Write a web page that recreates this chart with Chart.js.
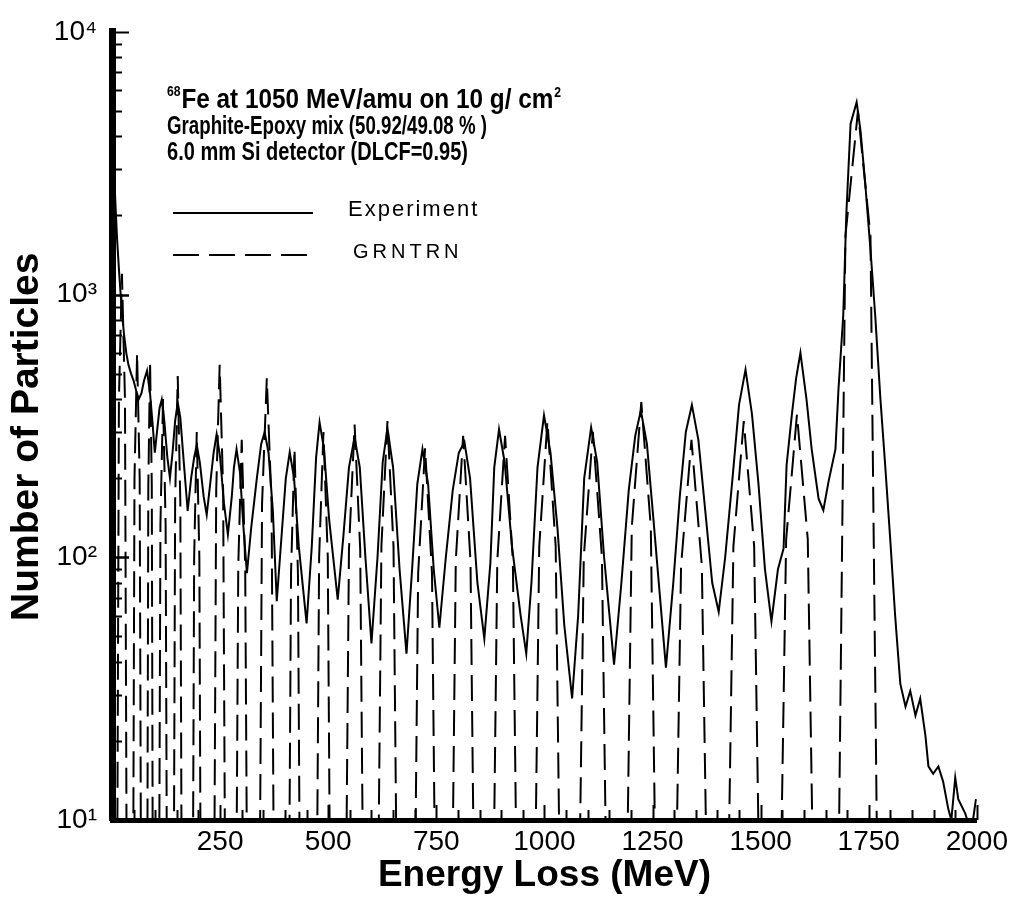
<!DOCTYPE html>
<html>
<head>
<meta charset="utf-8">
<script src="https://cdn.jsdelivr.net/npm/chart.js@4.4.1/dist/chart.umd.min.js"></script>
<style>
  html, body { margin: 0; padding: 0; background: #fff; }
  canvas { display: block; }
</style>
</head>
<body>
<canvas id="myChart" width="1013" height="897"></canvas>
<script>
const ctx = document.getElementById('myChart');
const FONT = '"Liberation Sans", Arial, sans-serif';

// measured spectrum: [energy loss MeV, number of particles]
const experiment = [
  [0, 9], [2, 3400], [5, 2900], [8, 2200], [12, 1600], [16, 1250], [20, 1000], [24, 820],
  [28, 700], [33, 600], [38, 540], [44, 500], [50, 470], [56, 430], [62, 400], [68, 420],
  [74, 470], [81, 513], [88, 420], [94, 320], [99, 250], [104, 300], [110, 370], [115, 398],
  [121, 330], [128, 240], [134, 200], [140, 250], [146, 330], [152, 388], [158, 340], [166, 230],
  [175, 150], [183, 200], [190, 240], [196, 267], [203, 230], [212, 170], [219, 145], [227, 190],
  [235, 250], [242, 294], [250, 240], [259, 160], [268, 122], [277, 170], [282, 220], [288, 258],
  [296, 210], [304, 130], [312, 87], [322, 130], [335, 200], [345, 270], [353, 299], [362, 250],
  [372, 150], [381, 68], [392, 120], [402, 200], [411, 251], [421, 200], [432, 110], [450, 56],
  [462, 110], [472, 240], [480, 326], [490, 260], [502, 140], [522, 69], [535, 120], [548, 220],
  [561, 286], [573, 220], [586, 100], [600, 47], [614, 100], [626, 230], [637, 310], [650, 220],
  [665, 90], [681, 43], [694, 90], [706, 190], [718, 258], [731, 190], [744, 90], [757, 54],
  [772, 100], [788, 180], [802, 250], [815, 275], [828, 200], [845, 80], [861, 49], [875, 95],
  [884, 220], [895, 307], [908, 230], [925, 110], [945, 60], [958, 43], [970, 80], [984, 220],
  [999, 347], [1014, 250], [1030, 130], [1046, 55], [1064, 29], [1078, 60], [1092, 200], [1108, 312],
  [1122, 230], [1138, 100], [1161, 39], [1178, 80], [1195, 180], [1210, 290], [1223, 362], [1237, 270],
  [1252, 140], [1281, 38], [1298, 80], [1313, 170], [1327, 300], [1341, 380], [1356, 280], [1372, 150],
  [1388, 80], [1403, 62], [1418, 100], [1435, 200], [1450, 380], [1465, 518], [1480, 350], [1495, 190],
  [1510, 90], [1525, 57], [1540, 90], [1553, 108], [1560, 224], [1572, 347], [1582, 480], [1592, 600],
  [1606, 400], [1618, 258], [1634, 167], [1645, 151], [1657, 194], [1673, 258], [1680, 436], [1691, 830],
  [1698, 2000], [1708, 4470], [1722, 5400], [1731, 4200], [1742, 2630], [1754, 1480], [1765, 830], [1777, 400],
  [1788, 224], [1800, 115], [1811, 60], [1823, 33], [1835, 27], [1846, 31], [1858, 25], [1869, 29],
  [1881, 21], [1888, 16], [1899, 15], [1911, 16], [1922, 14], [1934, 11], [1941, 10], [1950, 14.5],
  [1957, 12], [1973, 10.6], [1987, 9], [1998, 12],
];

// GRNTRN calculation: narrow peaks, feet drop below the axis
const grntrn = [
  [11, 2], [16, 400], [23, 1200], [30, 400], [35, 2],
  [48, 2], [52, 200], [58, 600], [64, 200], [68, 2],
  [81, 2], [84, 187], [88, 560], [92, 187], [95, 2],
  [108, 2], [112, 133], [118, 400], [124, 133], [128, 2],
  [142, 2], [146, 163], [152, 490], [158, 163], [162, 2],
  [186, 2], [190, 100], [196, 300], [202, 100], [206, 2],
  [235, 2], [241, 180], [249, 540], [257, 180], [263, 2],
  [286, 2], [292, 93], [300, 280], [308, 93], [314, 2],
  [340, 2], [347, 160], [358, 480], [369, 160], [376, 2],
  [408, 2], [414, 87], [422, 260], [430, 87], [436, 2],
  [472, 2], [479, 100], [489, 300], [499, 100], [506, 2],
  [539, 2], [548, 107], [561, 320], [574, 107], [583, 2],
  [613, 2], [623, 110], [637, 330], [651, 110], [661, 2],
  [698, 2], [708, 87], [724, 260], [740, 87], [750, 2],
  [784, 2], [795, 97], [812, 290], [829, 97], [840, 2],
  [879, 2], [891, 97], [909, 290], [927, 97], [939, 2],
  [975, 2], [988, 110], [1007, 330], [1026, 110], [1039, 2],
  [1077, 2], [1091, 100], [1112, 300], [1133, 100], [1147, 2],
  [1187, 2], [1202, 130], [1224, 390], [1246, 130], [1261, 2],
  [1300, 2], [1316, 93], [1340, 280], [1364, 93], [1380, 2],
  [1421, 2], [1437, 110], [1461, 330], [1485, 110], [1501, 2],
  [1542, 2], [1559, 117], [1584, 350], [1609, 117], [1626, 2],
  [1677, 2], [1696, 1667], [1725, 5000], [1754, 1667], [1773, 2],
];

const yDecades = [10, 100, 1000, 10000];
const supDigits = { 1: '\u00B9', 2: '\u00B2', 3: '\u00B3', 4: '\u2074' };
const noteLines = [
  { pre: '68', text: 'Fe at 1050 MeV/amu on 10 g/ cm', post: '2' },
  { pre: '', text: 'Graphite-Epoxy mix (50.92/49.08 % )', post: '' },
  { pre: '', text: '6.0 mm Si detector (DLCF=0.95)', post: '' },
];

const toPoints = (rows) => rows.map((r) => ({ x: r[0], y: r[1] }));

// inward ticks, the text block and the key
const decor = {
  id: 'decor',
  afterDatasetsDraw(chart) {
    const c = chart.ctx;
    const { left, bottom } = chart.chartArea;
    const x = chart.scales.x;
    const y = chart.scales.y;
    c.save();
    c.strokeStyle = '#000';
    c.fillStyle = '#000';
    c.lineWidth = 2;
    c.setLineDash([]);
    for (let d = 10; d < 10000; d *= 10) {
      for (let m = 1; m <= 10; m++) {
        const py = Math.round(y.getPixelForValue(d * m)) + 0.5;
        const len = m === 1 || m === 10 ? 14 : 7;
        c.beginPath();
        c.moveTo(left, py);
        c.lineTo(left + 3 + len, py);
        c.stroke();
      }
    }
    for (let e = 0; e <= 2000; e += 50) {
      const px = Math.round(x.getPixelForValue(e)) + 0.5;
      const len = e % 250 === 0 ? 13 : 8;
      c.beginPath();
      c.moveTo(px, bottom);
      c.lineTo(px, bottom - 2 - len);
      c.stroke();
    }

    // annotation, condensed bold text
    const spec = [
      { size: 28, base: 108, width: 372 },
      { size: 25, base: 134, width: 320 },
      { size: 25, base: 160, width: 301 },
    ];
    noteLines.forEach((ln, i) => {
      const s = spec[i];
      c.font = 'bold ' + s.size + 'px ' + FONT;
      const w = c.measureText(ln.text).width;
      const sx = s.width / w;
      c.save();
      c.translate(167, s.base);
      c.scale(sx, 1);
      let cx = 0;
      if (ln.pre) {
        c.font = 'bold 14px ' + FONT;
        c.fillText(ln.pre, 0, -12);
        cx = c.measureText(ln.pre).width + 1;
      }
      c.font = 'bold ' + s.size + 'px ' + FONT;
      c.fillText(ln.text, cx, 0);
      cx += w;
      if (ln.post) {
        c.font = 'bold 14px ' + FONT;
        c.fillText(ln.post, cx + 1, -11);
      }
      c.restore();
    });

    // key
    const keys = [
      { ds: 0, y: 213, text: 'Experiment', tx: 348, size: 22, spacing: '2px' },
      { ds: 1, y: 255, text: 'GRNTRN', tx: 353, size: 20, spacing: '4px' },
    ];
    keys.forEach((k) => {
      const ds = chart.data.datasets[k.ds];
      c.lineWidth = ds.borderWidth;
      c.setLineDash(ds.borderDash || []);
      c.beginPath();
      c.moveTo(173, k.y);
      c.lineTo(313, k.y);
      c.stroke();
      c.setLineDash([]);
      c.font = k.size + 'px ' + FONT;
      c.letterSpacing = k.spacing;
      c.textBaseline = 'middle';
      c.fillText(k.text, k.tx, k.y - 3);
      c.letterSpacing = '0px';
      c.textBaseline = 'alphabetic';
    });
    c.restore();
  },
};

const myChart = new Chart(ctx, {
  type: 'line',
  data: {
    datasets: [
      {
        label: 'Experiment',
        data: toPoints(experiment),
        borderColor: '#000',
        borderWidth: 2,
        pointRadius: 0,
        tension: 0,
        fill: false,
      },
      {
        label: 'GRNTRN',
        data: toPoints(grntrn),
        borderColor: '#000',
        borderWidth: 2,
        borderDash: [26, 10],
        pointRadius: 0,
        tension: 0,
        fill: false,
      },
    ],
  },
  options: {
    responsive: false,
    animation: false,
    layout: { padding: { top: 28, right: 35, left: 0, bottom: 0 } },
    plugins: {
      legend: { display: false },
      tooltip: { enabled: false },
    },
    scales: {
      x: {
        type: 'linear',
        min: 0,
        max: 2000,
        afterFit: (s) => { s.height = 77; },
        grid: { display: false, drawTicks: false },
        border: { display: true, color: '#000', width: 5 },
        ticks: {
          stepSize: 250,
          autoSkip: false,
          maxRotation: 0,
          padding: 5,
          color: '#000',
          font: { family: FONT, size: 28 },
          callback: (v) => (v === 0 ? '' : String(v)),
        },
        title: {
          display: true,
          text: 'Energy Loss (MeV)',
          color: '#000',
          font: { family: FONT, size: 37, weight: 'bold', lineHeight: 1 },
          padding: { top: 0, bottom: 3 },
        },
      },
      y: {
        type: 'logarithmic',
        min: 10,
        max: 10000,
        afterFit: (s) => { s.width = 112; },
        afterBuildTicks: (s) => { s.ticks = yDecades.map((v) => ({ value: v, major: true })); },
        grid: { display: false, drawTicks: false },
        border: { display: true, color: '#000', width: 7 },
        ticks: {
          autoSkip: false,
          padding: 15,
          color: '#000',
          font: { family: FONT, size: 28 },
          callback: (v) => '10' + supDigits[Math.round(Math.log10(v))],
        },
        title: {
          display: true,
          text: 'Number of Particles  ',
          color: '#000',
          font: { family: FONT, size: 39, weight: 'bold', lineHeight: 1 },
          padding: { top: 8, bottom: 0 },
        },
      },
    },
  },
  plugins: [decor],
});
</script>
</body>
</html>
